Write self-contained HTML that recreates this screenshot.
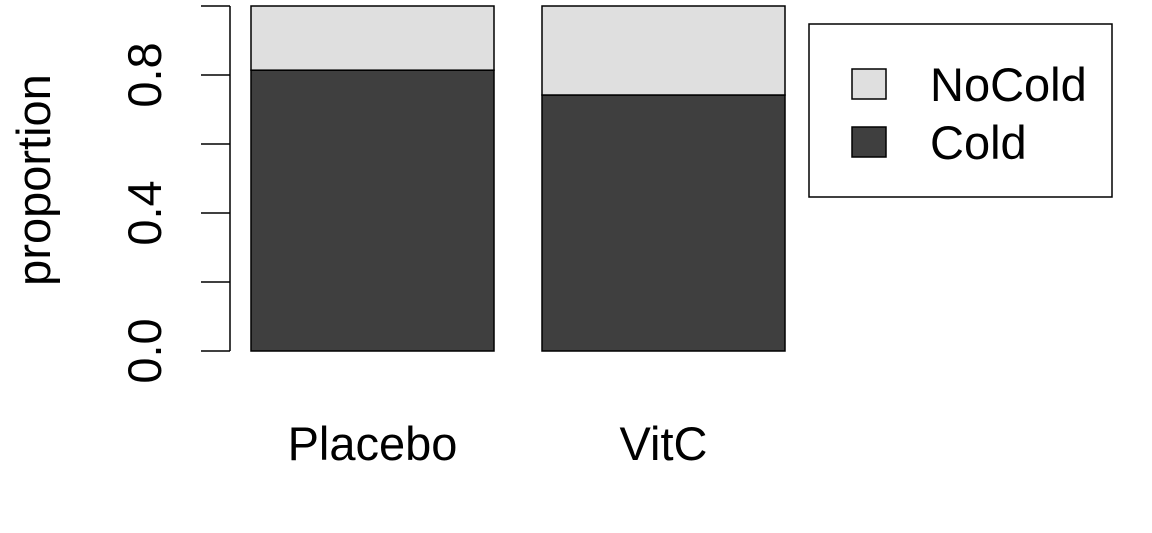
<!DOCTYPE html>
<html><head><meta charset="utf-8"><style>
body{margin:0;background:#fff}
svg text{font-family:"Liberation Sans",sans-serif;fill:#000}
</style></head><body>
<svg id="chart" width="1152" height="528">
</svg>
<script>
const categories=["Placebo","VitC"];
const coldValues=[0.814,0.742];
const noColdValues=[0.186,0.258];
const tickValues=[0,0.2,0.4,0.6,0.8,1.0];
const tickLabels=["0.0","","0.4","","0.8",""];
const NS="http://www.w3.org/2000/svg";
const svg=document.getElementById('chart');
const FS=47;
const y=v=>351-v*345;
const barLeft=[251,542],barW=243;
function el(t,a,p){const e=document.createElementNS(NS,t);for(const k in a)e.setAttribute(k,a[k]);(p||svg).appendChild(e);return e;}
categories.forEach((c,i)=>{
 const x=barLeft[i];
 const r1=el('rect',{x:x,y:y(coldValues[i]),width:barW,height:y(0)-y(coldValues[i]),fill:'#3f3f3f',stroke:'#000','stroke-width':1.5});
 
 
 const r2=el('rect',{x:x,y:y(coldValues[i]+noColdValues[i]),width:barW,height:y(coldValues[i])-y(coldValues[i]+noColdValues[i]),fill:'#dfdfdf',stroke:'#000','stroke-width':1.5});
 
 
 const t=el('text',{x:x+barW/2,y:460,'font-size':FS,'text-anchor':'middle'});
 t.textContent=c;
 
 
});
const ax=el('line',{x1:230,x2:230,y1:y(0),y2:y(1),stroke:'#000','stroke-width':1.5});


tickValues.forEach((v,i)=>{
 const tk=el('line',{x1:201,x2:230,y1:y(v),y2:y(v),stroke:'#000','stroke-width':1.5});
 
 
 if(tickLabels[i]){
  const t=el('text',{x:0,y:0,'font-size':FS,'text-anchor':'middle',transform:`translate(161,${y(v)}) rotate(-90)`});
  t.textContent=tickLabels[i];
  
  
 }
});
const yt=el('text',{x:0,y:0,'font-size':FS,'text-anchor':'middle',transform:'translate(50,180) rotate(-90)'});
yt.textContent='proportion';


const lg=el('g',{});


el('rect',{x:809,y:24,width:303,height:173,fill:'#fff',stroke:'#000','stroke-width':1.5},lg);
const b1=el('rect',{x:852,y:69,width:34,height:30,fill:'#dfdfdf',stroke:'#000','stroke-width':1.5},lg);


const t1=el('text',{x:930,y:101,'font-size':FS},lg);t1.textContent='NoCold';


const b2=el('rect',{x:852,y:127,width:34,height:30,fill:'#3f3f3f',stroke:'#000','stroke-width':1.5},lg);


const t2=el('text',{x:930,y:159,'font-size':FS},lg);t2.textContent='Cold';


</script>
</body></html>
